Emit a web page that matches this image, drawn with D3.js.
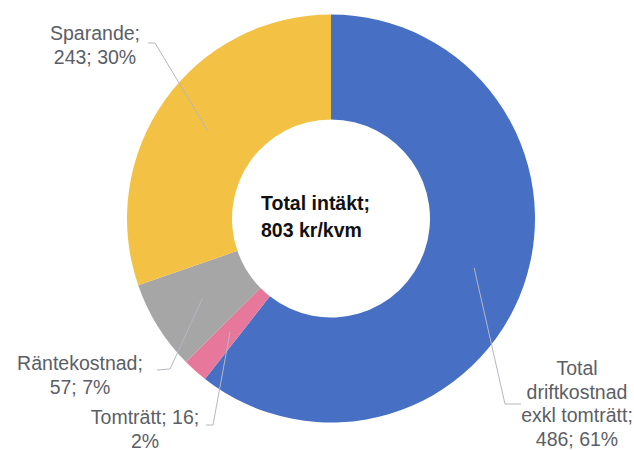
<!DOCTYPE html>
<html>
<head>
<meta charset="utf-8">
<script src="https://cdn.jsdelivr.net/npm/d3@7"></script>
<style>
  body { margin: 0; background: #fff; }
  svg { display: block; }
</style>
</head>
<body>
<script>
// data
var categories = ['Total driftkostnad exkl tomträtt', 'Tomträtt', 'Räntekostnad', 'Sparande'];
var values = [486, 16, 57, 243];
var percents = [61, 2, 7, 30];
var labelLines = [
  ['Total', 'driftkostnad', 'exkl tomträtt;', '486; 61%'],
  ['Tomträtt; 16;', '2%'],
  ['Räntekostnad;', '57; 7%'],
  ['Sparande;', '243; 30%']
];
var centerLines = ['Total intäkt;', '803 kr/kvm'];

// layout
var width = 634, height = 450;
var cx = 331, cy = 218.5, outerR = 204, innerR = 99;
var colors = ['#4770c4', '#e8789b', '#a6a6a6', '#f3c245'];
// label block anchor (x centre, first baseline) and leader elbow
var labelPos = [
  { x: 577, y: 375, elbow: [505, 404], end: [521, 404] },
  { x: 145, y: 424, elbow: [213, 425], end: [206, 425] },
  { x: 80, y: 370, elbow: [170, 369], end: [157, 370] },
  { x: 95, y: 40, elbow: [155, 43], end: [148, 43] }
];
var lineH = 23.5;

var svg = d3.select('body').append('svg').attr('width', width).attr('height', height);
var g = svg.append('g').attr('transform', 'translate(' + cx + ',' + cy + ')');

var pie = d3.pie().sort(null).value(function (d) { return d; });
var arc = d3.arc().innerRadius(innerR).outerRadius(outerR);
var mid = d3.arc().innerRadius((innerR + outerR) / 2).outerRadius((innerR + outerR) / 2);

var arcs = pie(values);

g.selectAll('path.slice')
  .data(arcs)
  .enter()
  .append('path')
  .attr('class', 'slice')
  .attr('d', arc)
  .attr('fill', function (d, i) { return colors[i]; });

// leader lines
svg.selectAll('polyline.leader')
  .data(arcs)
  .enter()
  .append('polyline')
  .attr('class', 'leader')
  .attr('points', function (d, i) {
    var c = mid.centroid(d);
    var p = labelPos[i];
    return [[cx + c[0], cy + c[1]], p.elbow, p.end].map(function (q) { return q.join(','); }).join(' ');
  })
  .attr('fill', 'none')
  .attr('stroke', '#b4b8c0')
  .attr('stroke-width', 1);

// labels
svg.selectAll('text.lbl')
  .data(labelLines)
  .enter()
  .append('text')
  .attr('class', 'lbl')
  .attr('text-anchor', 'middle')
  .attr('font-family', 'Liberation Sans, Arial, sans-serif')
  .attr('font-size', 19.5)
  .attr('fill', '#5b5e66')
  .each(function (lines, i) {
    var t = d3.select(this);
    lines.forEach(function (s, j) {
      t.append('tspan')
        .attr('x', labelPos[i].x)
        .attr('y', labelPos[i].y + j * lineH)
        .text(s);
    });
  });

// centre text
svg.append('text')
  .attr('font-family', 'Liberation Sans, Arial, sans-serif')
  .attr('font-size', 19.5)
  .attr('font-weight', 'bold')
  .attr('fill', '#111')
  .selectAll('tspan')
  .data(centerLines)
  .enter()
  .append('tspan')
  .attr('x', 261)
  .attr('y', function (d, i) { return 210 + i * 27; })
  .text(function (d) { return d; });
</script>
</body>
</html>
